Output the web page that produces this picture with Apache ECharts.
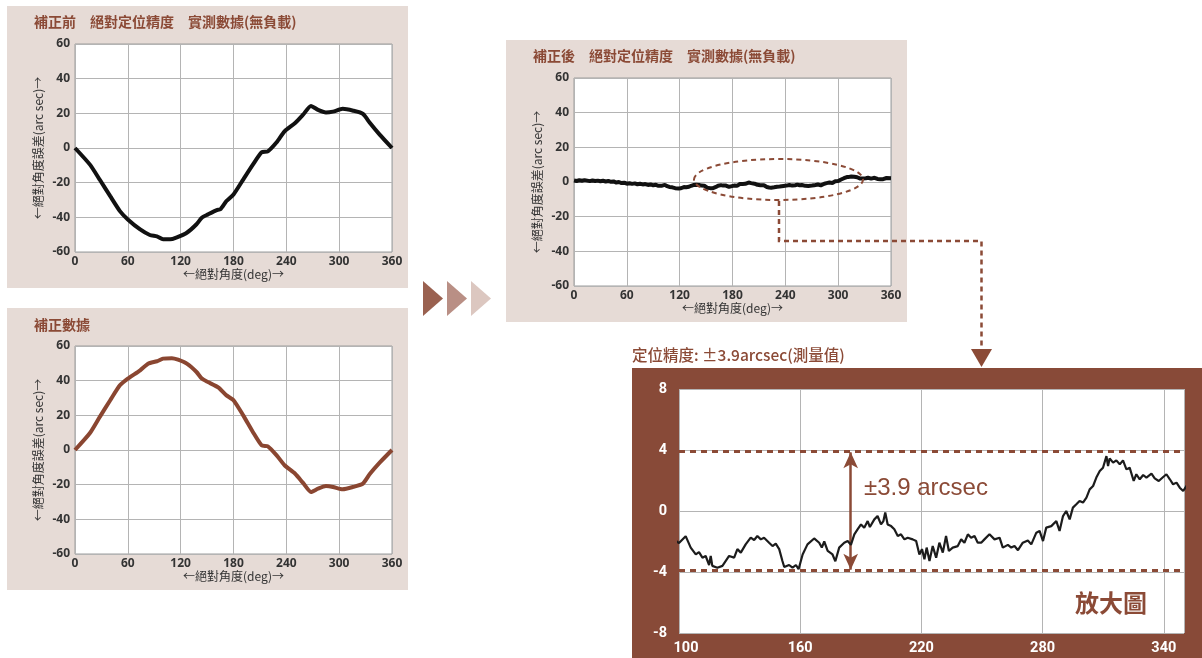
<!DOCTYPE html>
<html>
<head>
<meta charset="utf-8">
<script src="https://cdn.jsdelivr.net/npm/echarts@6/dist/echarts.min.js"></script>
<style>
  html, body { margin: 0; padding: 0; background: #fff; }
  #chart { width: 1202px; height: 658px; }
</style>
</head>
<body>
<div id="chart"></div>
<script>
  // 補正前 (before correction)
  var beforeDeg = [0, 17, 28, 40, 51, 60, 74, 85, 93, 100, 108, 115, 127, 138, 144, 151, 161, 165, 172, 180,
    191, 202, 212, 219, 229, 238, 250, 259, 268, 276, 285, 293, 304, 316, 327, 335, 346, 360];
  var beforeVal = [0, -9.6, -18.2, -27.8, -36.4, -41.2, -47, -50.2, -51, -52.7, -52.7, -51.7, -48.9, -44, -40.2, -38.3, -35.8, -35.4, -30.6, -26.8,
    -18.2, -9.6, -2.5, -1.9, 3.3, 9.6, 14.4, 19.2, 24.3, 22, 20.5, 21, 22.6, 21.5, 19.7, 14.4, 7.7, 0];

  // 補正數據 (correction data)
  var corrDeg = [0, 17, 28, 40, 51, 60, 74, 83, 93, 100, 110, 117, 127, 138, 144, 151, 163, 172, 180,
    191, 202, 212, 219, 229, 238, 250, 259, 268, 276, 285, 293, 304, 316, 327, 335, 346, 360];
  var corrVal = [0, 9.8, 19, 28.7, 37.3, 41.2, 46, 49.8, 51.2, 52.7, 53, 52.1, 49.8, 45, 41.2, 39.2, 36, 31.5, 28.7,
    20, 10.4, 2.7, 2.1, -3.1, -8.8, -13.7, -19, -24.2, -22.3, -20.8, -21.3, -22.7, -21.3, -19.4, -13.7, -7.3, 0];

  // 補正後 (after correction) - also used for the 放大圖
  var afterDeg = [0, 3, 6, 9, 12, 15, 18, 21, 24, 27, 30, 33, 36, 39, 42, 45, 48, 51, 54, 57,
    60, 63, 66, 69, 72, 75, 78, 81, 84, 87, 90, 93, 96, 98,
    100, 103.3, 105.8, 108.3, 109.9, 111.6, 113.2, 114.9, 115.7, 116.5, 119, 121.5, 124.8, 127.3, 128.9, 130.6,
    133, 135.5, 137.2, 138.8, 140.5, 142.1, 144.6, 146.3, 147.9, 149.6, 151.2, 152.1, 154.5, 156.2, 157.9, 159.2,
    161.2, 163.6, 166.9, 169.4, 170.7, 171.9, 173.6, 176, 177.4, 179.3, 181.8, 183.5, 185.1, 186.8, 188.4, 190.1,
    191.7, 193.4, 194.5, 196.7, 198.3, 200, 201.2, 202.1, 203.3, 205, 206.6, 208.3, 209.9, 211.6, 213.2, 215.7,
    217.4, 219, 220.3, 221.5, 222.6, 224, 225.6, 227.3, 228.9, 230.6, 232.2, 233.6, 235.5, 238, 239.7, 241.3,
    243, 244.6, 246.3, 247.9, 249.6, 251.2, 253.7, 256.2, 258.7, 260.3, 262.8, 264.5, 266.1, 267.8, 270.2, 272.7,
    274.4, 276.9, 278.5, 280.2, 281.8, 284.3, 286.8, 288.4, 290.1, 291.7, 293.4, 295, 296.7, 298.3, 300, 301.7,
    303.3, 305, 306.6, 308.3, 309.9, 311.6, 312.4, 313.2, 314.9, 316.5, 318.2, 319.8, 321.5, 323.1, 325.1, 326.4,
    328.1, 329.8, 331.4, 333.9, 335.5, 337.5, 339.7, 341.3, 343, 344.6, 346.3, 347.9, 349.6,
    351, 353, 355, 357, 360];
  var afterVal = [0.9, 0.6, 1.0, 0.7, 1.1, 0.8, 0.5, 0.9, 0.6, 0.8, 0.4, 0.7, 0.3, 0.6, 0.1, 0.3, -0.3, 0, -0.6, -0.4,
    -1.0, -0.7, -1.1, -0.8, -1.3, -1.0, -1.4, -1.2, -1.7, -1.4, -1.9, -1.6, -2.2, -1.9,
    -2.1, -1.65, -2.4, -2.85, -2.7, -3.06, -2.95, -3.54, -2.95, -3.6, -3.72, -3.6, -2.95, -3.06, -2.5, -2.73,
    -2.19, -1.75, -1.9, -1.64, -1.86, -1.75, -2.08, -2.3, -2.14, -2.5, -3.28, -3.67, -3.54, -3.72, -3.54, -3.82,
    -2.85, -2.19, -1.8, -2.08, -2.4, -2.0, -2.62, -2.85, -3.3, -2.4, -2.08, -1.97, -2.22, -1.53, -1.2, -0.88,
    -1.1, -0.66, -1.05, -0.55, -0.33, -0.88, -0.66, -0.1, -0.88, -0.99, -1.2, -1.64, -1.53, -1.86, -1.75, -1.86,
    -1.97, -2.85, -2.5, -3.17, -2.4, -3.28, -2.3, -3.06, -2.08, -2.73, -1.64, -2.62, -2.4, -2.3, -1.86, -2.08,
    -1.53, -1.75, -1.64, -2.08, -2.08, -1.86, -1.53, -1.86, -1.75, -2.4, -2.22, -2.4, -2.3, -2.57, -2.08, -1.93,
    -2.19, -1.42, -1.31, -1.97, -1.09, -0.99, -0.66, -1.31, -0.33, 0.0, -0.55, 0.22, 0.44, 0.66, 0.55, 0.88,
    1.42, 1.64, 2.19, 2.62, 2.84, 3.6, 2.95, 3.45, 3.17, 3.32, 3.06, 3.32, 2.73, 2.84, 1.97, 2.41,
    2.08, 2.36, 2.19, 2.45, 2.14, 1.97, 2.23, 2.41, 2.08, 1.75, 1.86, 1.53, 1.31,
    1.6, 1.9, 2.3, 1.9, 2.2];

  var band = 3.9;        // ±3.9 arcsec
  var arrowDeg = 185;    // where the ± arrow sits in the 放大圖

  var brown = '#8b4a36';
  var panelBg = '#e6dbd6';
  var cjk = '"Noto Sans CJK TC", "Noto Sans", sans-serif';

  function pairs(xs, ys) {
    return xs.map(function (x, i) { return [x, ys[i]]; });
  }

  function smallX(idx) {
    return {
      type: 'value', gridIndex: idx, min: 0, max: 360, interval: 60,
      name: '←絕對角度(deg)→', nameLocation: 'middle', nameGap: 16,
      nameTextStyle: { color: '#333', fontSize: 12, fontFamily: cjk },
      axisLine: { show: false }, axisTick: { show: false },
      axisLabel: { color: '#333', fontSize: 12, fontWeight: 'bold', fontFamily: '"Noto Sans", sans-serif', margin: 4 },
      splitLine: { show: true, lineStyle: { color: '#b4b4b4', width: 1 } }
    };
  }
  function smallY(idx) {
    return {
      type: 'value', gridIndex: idx, min: -60, max: 60, interval: 20,
      name: '←絕對角度誤差(arc sec)→', nameLocation: 'middle', nameGap: 31,
      nameTextStyle: { color: '#333', fontSize: 12, fontFamily: cjk },
      axisLine: { show: false }, axisTick: { show: false },
      axisLabel: { color: '#333', fontSize: 12, fontWeight: 'bold', fontFamily: '"Noto Sans", sans-serif', margin: 5 },
      splitLine: { show: true, lineStyle: { color: '#b4b4b4', width: 1 } }
    };
  }
  function smallGrid(left, top) {
    return {
      left: left, top: top, width: 317, height: 208,
      show: true, backgroundColor: '#fff', borderColor: '#9c9c9c', borderWidth: 1,
      containLabel: false, outerBoundsMode: 'none'
    };
  }

  var option = {
    animation: false,
    backgroundColor: '#fff',
    grid: [
      smallGrid(75, 44),
      smallGrid(75, 346),
      smallGrid(574, 78),
      { left: 679, top: 389, width: 505, height: 244, show: true, backgroundColor: '#fff', borderWidth: 0,
        containLabel: false, outerBoundsMode: 'none' }
    ],
    xAxis: [
      smallX(0), smallX(1), smallX(2),
      {
        type: 'value', gridIndex: 3, min: 100, max: 350, interval: 60,
        axisLine: { show: false }, axisTick: { show: false },
        axisLabel: {
          color: '#fff', fontSize: 14.5, fontWeight: 'bold', fontFamily: 'Roboto, sans-serif', margin: 8, showMaxLabel: false,
          formatter: function (v) { return v === 100 ? '{first|' + v + '}' : String(v); },
          rich: { first: { color: '#fff', fontSize: 14.5, fontWeight: 'bold', fontFamily: 'Roboto, sans-serif', padding: [0, 0, 0, 14] } }
        },
        splitLine: { show: true, lineStyle: { color: '#b4b4b4', width: 1 } }
      }
    ],
    yAxis: [
      smallY(0), smallY(1), smallY(2),
      {
        type: 'value', gridIndex: 3, min: -8, max: 8, interval: 4,
        axisLine: { show: false }, axisTick: { show: false },
        axisLabel: { color: '#fff', fontSize: 14.5, fontWeight: 'bold', fontFamily: 'Roboto, sans-serif', margin: 12 },
        splitLine: { show: true, lineStyle: { color: '#b4b4b4', width: 1 } }
      }
    ],
    series: [
      {
        type: 'line', xAxisIndex: 0, yAxisIndex: 0, data: pairs(beforeDeg, beforeVal),
        showSymbol: false, smooth: 0.2, lineStyle: { color: '#111', width: 4 }, z: 5
      },
      {
        type: 'line', xAxisIndex: 1, yAxisIndex: 1, data: pairs(corrDeg, corrVal),
        showSymbol: false, smooth: 0.2, lineStyle: { color: '#8a4631', width: 4 }, z: 5
      },
      {
        type: 'line', xAxisIndex: 2, yAxisIndex: 2, data: pairs(afterDeg, afterVal),
        showSymbol: false, lineStyle: { color: '#111', width: 4 }, z: 5
      },
      {
        type: 'line', xAxisIndex: 3, yAxisIndex: 3, data: pairs(afterDeg, afterVal),
        showSymbol: false, lineStyle: { color: '#1c1c1c', width: 2.2 }, z: 5,
        markLine: {
          silent: true, symbol: 'none',
          lineStyle: { color: brown, type: [6, 5], width: 3 },
          label: { show: false },
          data: [{ yAxis: band }, { yAxis: -band }]
        }
      },
      {
        type: 'line', xAxisIndex: 3, yAxisIndex: 3, data: [[arrowDeg, 0]],
        showSymbol: false, lineStyle: { opacity: 0 }, z: 6,
        markLine: {
          silent: true, symbol: ['arrow', 'arrow'], symbolSize: [11, 16],
          lineStyle: { color: brown, type: 'solid', width: 2.5 },
          label: { show: false },
          data: [[{ coord: [arrowDeg, -band + 0.05] }, { coord: [arrowDeg, band - 0.05] }]]
        }
      }
    ],
    graphic: [
      // panel backgrounds
      { type: 'rect', z: -10, shape: { x: 7, y: 6, width: 401, height: 282 }, style: { fill: panelBg } },
      { type: 'rect', z: -10, shape: { x: 7, y: 308, width: 401, height: 282 }, style: { fill: panelBg } },
      { type: 'rect', z: -10, shape: { x: 506, y: 40, width: 401, height: 282 }, style: { fill: panelBg } },
      { type: 'rect', z: -10, shape: { x: 632, y: 368, width: 570, height: 290 }, style: { fill: '#884a38' } },
      // titles
      { type: 'text', x: 34, y: 22, style: { text: '補正前　絕對定位精度　實測數據(無負載)', fill: brown, font: 'bold 14px ' + cjk, verticalAlign: 'middle' } },
      { type: 'text', x: 34, y: 325, style: { text: '補正數據', fill: brown, font: 'bold 14px ' + cjk, verticalAlign: 'middle' } },
      { type: 'text', x: 533, y: 56, style: { text: '補正後　絕對定位精度　實測數據(無負載)', fill: brown, font: 'bold 14px ' + cjk, verticalAlign: 'middle' } },
      { type: 'text', x: 632, y: 355, style: { text: '定位精度: ±3.9arcsec(測量值)', fill: brown, font: '500 15.5px ' + cjk, verticalAlign: 'middle' } },
      // chevrons
      { type: 'polygon', shape: { points: [[423, 281], [443, 298.5], [423, 316]] }, style: { fill: '#9a6150' } },
      { type: 'polygon', shape: { points: [[447, 281], [467, 298.5], [447, 316]] }, style: { fill: '#b98f85' } },
      { type: 'polygon', shape: { points: [[471, 281], [491, 298.5], [471, 316]] }, style: { fill: '#dcc7c0' } },
      // ellipse + connector
      { type: 'ellipse', z: 50, shape: { cx: 778.5, cy: 179.5, rx: 84.5, ry: 20.5 },
        style: { fill: 'none', stroke: brown, lineWidth: 2, lineDash: [5, 4] } },
      { type: 'polyline', z: 50, shape: { points: [[779, 201], [779, 241], [981.5, 241], [981.5, 350]] },
        style: { fill: 'none', stroke: brown, lineWidth: 2.5, lineDash: [5, 4] } },
      { type: 'polygon', z: 50, shape: { points: [[971, 349], [992, 349], [981.5, 367]] }, style: { fill: brown } },
      // annotations in the zoom
      { type: 'text', z: 60, x: 864, y: 488, style: { text: '±3.9 arcsec', fill: brown, font: '24px "Liberation Sans", Arial, sans-serif', verticalAlign: 'middle' } },
      { type: 'text', z: 60, x: 1075, y: 603, style: { text: '放大圖', fill: brown, font: 'bold 24px ' + cjk, verticalAlign: 'middle' } }
    ]
  };

  var myChart = echarts.init(document.getElementById('chart'));
  myChart.setOption(option);
</script>
</body>
</html>
